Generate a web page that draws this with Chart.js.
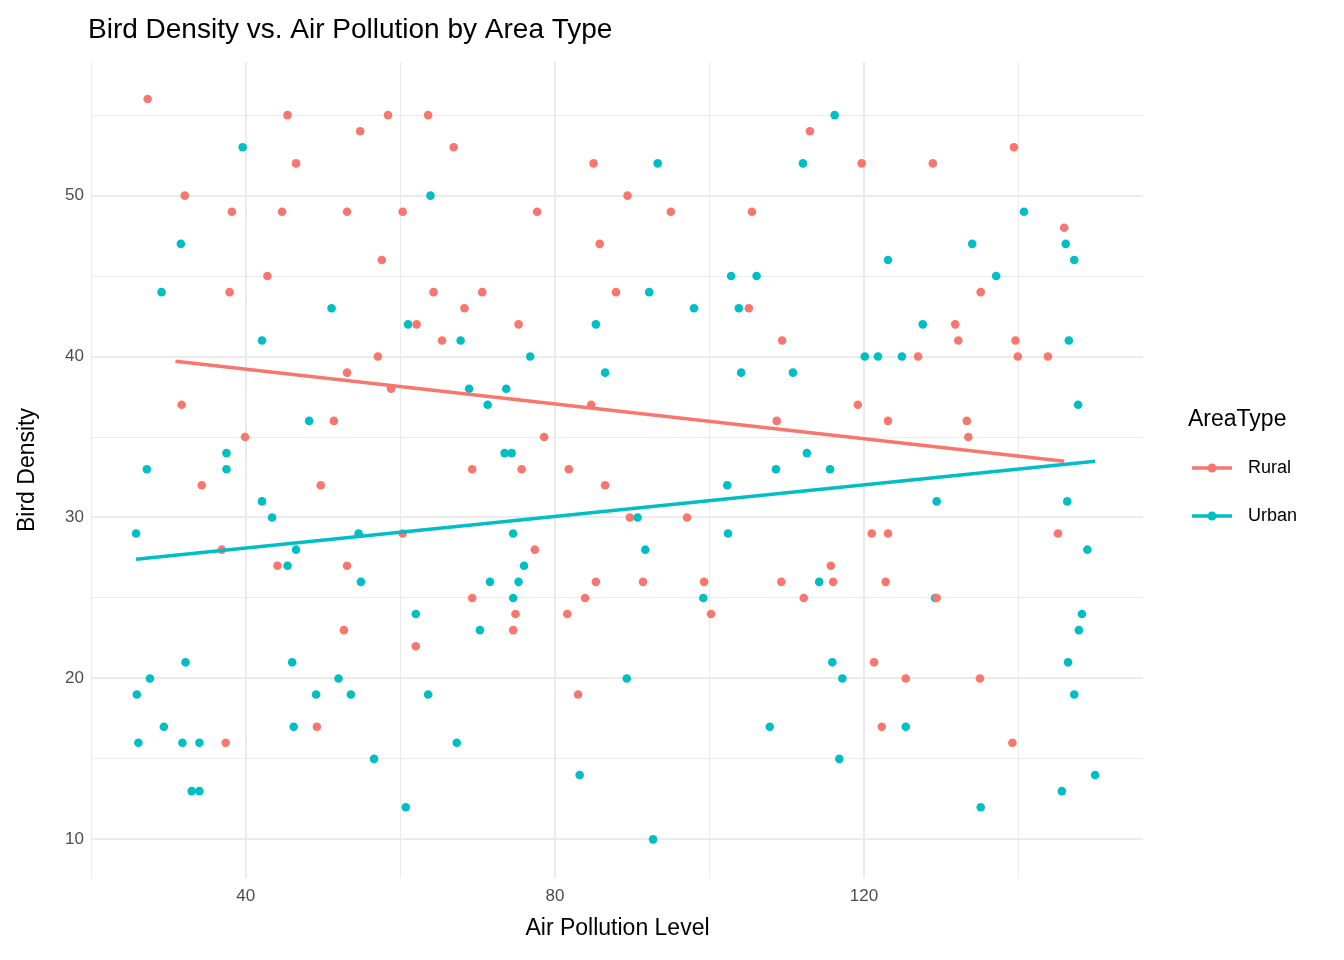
<!DOCTYPE html>
<html>
<head>
<meta charset="utf-8">
<script src="https://cdn.jsdelivr.net/npm/chart.js@4"></script>
<style>
  body { margin: 0; background: #fff; }
  #wrap { width: 1344px; height: 960px; }
</style>
</head>
<body>
<div id="wrap"><canvas id="c" width="1344" height="960"></canvas></div>
<script>
// values
const ruralX = [27.3,32.1,31.7,38.2,37.9,42.8,39.9,34.3,36.9,37.4,45.4,46.5,44.7,44.1,54.8,53.1,53.1,51.4,53.1,52.7,49.7,49.2,58.4,57.6,57.1,58.8,60.3,60.3,62.1,62.0,63.6,64.3,65.4,66.9,68.3,70.6,69.3,69.3,75.3,77.7,78.6,77.4,75.7,74.9,74.6,81.8,81.6,83.9,83.0,84.7,85.0,85.8,85.3,86.5,87.9,89.4,89.7,91.4,95.0,97.1,100.2,99.3,105.5,105.1,109.4,108.7,109.3,113.0,112.2,115.7,116.0,119.7,119.2,121.0,121.3,122.3,123.1,123.1,122.8,125.4,127.0,128.9,129.4,131.8,132.2,133.3,133.5,135.1,135.0,139.4,139.6,139.9,139.2,143.8,145.1,145.9];
const ruralY = [56,50,37,49,44,45,35,32,28,16,55,52,49,27,54,49,39,36,27,23,32,17,55,46,40,38,49,29,42,22,55,44,41,53,43,44,33,25,42,49,35,28,33,24,23,33,24,25,19,37,52,47,26,32,44,50,30,26,49,30,24,26,49,43,41,36,26,54,25,27,26,52,37,29,21,17,36,29,26,20,40,52,25,42,41,36,35,44,20,53,41,40,16,40,29,48];
const urbanX = [25.8,25.9,26.1,27.2,27.6,29.1,29.4,31.6,31.8,32.2,33.0,34.0,34.0,37.5,37.5,39.6,42.1,42.1,43.4,45.4,46.0,46.2,46.5,48.2,49.1,51.1,52.0,53.6,54.6,54.9,56.6,60.7,61.0,62.0,63.6,63.9,67.3,67.8,68.9,70.3,71.3,71.6,73.5,73.7,74.4,74.6,74.6,75.3,76.0,76.8,83.2,85.3,86.5,89.3,90.7,91.7,92.2,92.7,93.3,98.0,99.2,102.3,102.4,102.8,103.8,104.1,106.1,107.8,108.6,110.8,112.1,112.6,114.2,115.6,115.9,116.2,116.8,117.2,120.1,121.8,123.1,124.9,125.4,127.6,129.2,129.4,134.0,135.1,137.1,140.7,145.6,146.1,146.3,146.4,146.5,147.2,147.2,147.7,147.8,148.2,148.9,149.9];
const urbanY = [29,19,16,33,20,44,17,47,16,21,13,13,16,34,33,53,41,31,30,27,21,17,28,36,19,43,20,19,29,26,15,12,42,24,19,50,16,41,38,23,37,26,34,38,34,29,25,26,27,40,14,42,39,20,30,28,44,10,52,43,25,32,29,45,43,39,45,17,33,39,52,34,26,33,21,55,15,20,40,40,46,40,17,42,25,31,47,12,45,49,13,47,31,21,41,19,46,37,23,24,28,14];
// fitted trend lines (end points)
const ruralFitX = [30.9, 145.9];
const ruralFitY = [39.7, 33.5];
const urbanFitX = [25.8, 149.9];
const urbanFitY = [27.4, 33.5];
const xTicks = [20, 40, 60, 80, 100, 120, 140];
const yTicks = [10, 15, 20, 25, 30, 35, 40, 45, 50, 55];
const xMajor = [40, 80, 120];
const yMajor = [10, 20, 30, 40, 50];

const RED = '#F8766D', TEAL = '#00BFC4';
const FONT = '"Liberation Sans", Arial, sans-serif';
const pts = (xs, ys) => xs.map((x, i) => ({ x: x, y: ys[i] }));

const overlay = {
  id: 'overlay',
  afterDraw(chart) {
    const ctx = chart.ctx;
    ctx.save();
    ctx.fillStyle = '#000';
    ctx.font = '28px ' + FONT;
    ctx.textBaseline = 'alphabetic';
    ctx.fillText('Bird Density vs. Air Pollution by Area Type', 88, 38);
    ctx.font = '23px ' + FONT;
    ctx.fillText('AreaType', 1188, 426);
    ctx.font = '18px ' + FONT;
    [['Rural', RED, 468], ['Urban', TEAL, 516]].forEach(function (it) {
      ctx.strokeStyle = it[1];
      ctx.lineWidth = 3.5;
      ctx.beginPath(); ctx.moveTo(1192, it[2]); ctx.lineTo(1232, it[2]); ctx.stroke();
      ctx.fillStyle = it[1];
      ctx.beginPath(); ctx.arc(1212, it[2], 4.5, 0, Math.PI * 2); ctx.fill();
      ctx.fillStyle = '#000';
      ctx.textBaseline = 'middle';
      ctx.fillText(it[0], 1248, it[2]);
    });
    ctx.restore();
  }
};

const gridStyle = majors => ({
  color: '#ebebeb',
  lineWidth: c => (c.tick && majors.includes(c.tick.value)) ? 2 : 1,
  drawTicks: false
});

new Chart(document.getElementById('c'), {
  type: 'scatter',
  data: {
    datasets: [
      { data: pts(ruralFitX, ruralFitY), type: 'line', borderColor: RED, borderWidth: 3.5, pointRadius: 0, fill: false },
      { data: pts(urbanFitX, urbanFitY), type: 'line', borderColor: TEAL, borderWidth: 3.5, pointRadius: 0, fill: false },
      { data: pts(ruralX, ruralY), backgroundColor: RED, borderWidth: 0, pointRadius: 4.3 },
      { data: pts(urbanX, urbanY), backgroundColor: TEAL, borderWidth: 0, pointRadius: 4.3 }
    ]
  },
  options: {
    responsive: false,
    animation: false,
    layout: { padding: { top: 62, right: 201, left: 10, bottom: 14 } },
    plugins: { legend: { display: false }, tooltip: { enabled: false } },
    scales: {
      x: {
        type: 'linear', min: 20.1, max: 156.1,
        afterBuildTicks: s => { s.ticks = xTicks.map(v => ({ value: v })); },
        afterFit: s => { s.height = 68; },
        border: { display: false },
        grid: gridStyle(xMajor),
        ticks: {
          color: '#4d4d4d', font: { size: 17, family: FONT }, padding: 8,
          callback: v => xMajor.includes(v) ? v : ''
        },
        title: { display: true, text: 'Air Pollution Level', color: '#000',
          font: { size: 23, family: FONT }, padding: { top: 0 } }
      },
      y: {
        type: 'linear', min: 7.6, max: 58.3,
        afterBuildTicks: s => { s.ticks = yTicks.map(v => ({ value: v })); },
        afterFit: s => { s.width = 82; },
        border: { display: false },
        grid: gridStyle(yMajor),
        ticks: {
          color: '#4d4d4d', font: { size: 17, family: FONT }, padding: 8,
          callback: v => yMajor.includes(v) ? v : ''
        },
        title: { display: true, text: 'Bird Density', color: '#000',
          font: { size: 23, family: FONT }, padding: { bottom: 2 } }
      }
    }
  },
  plugins: [overlay]
});
</script>
</body>
</html>
